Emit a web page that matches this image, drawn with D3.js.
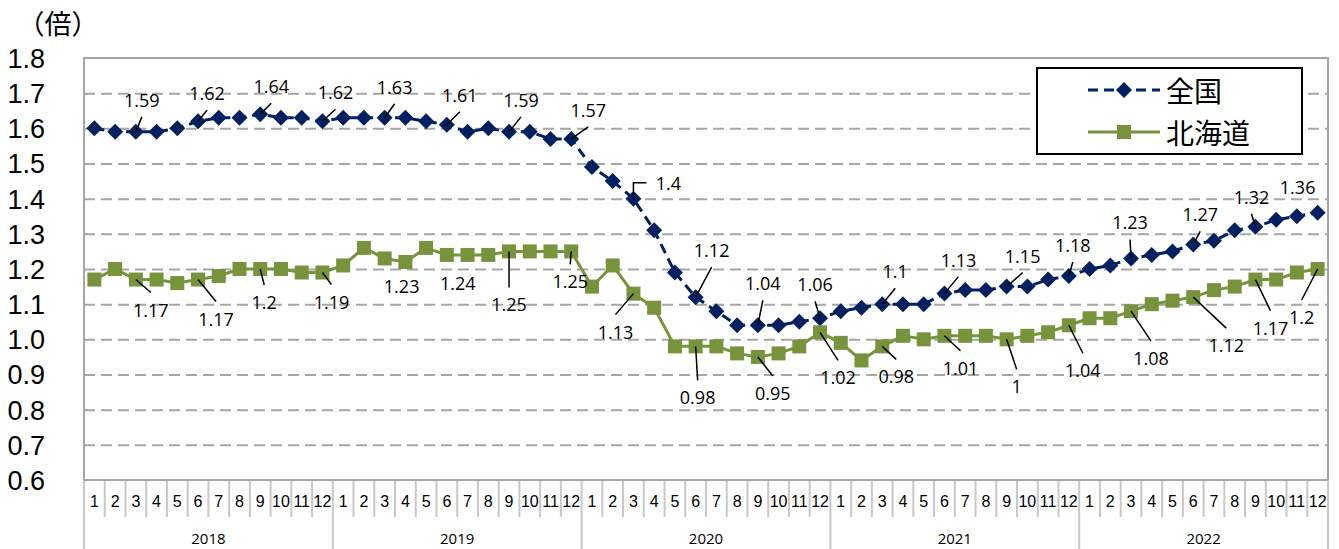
<!DOCTYPE html>
<html>
<head>
<meta charset="utf-8">
<script src="https://cdn.jsdelivr.net/npm/d3@7"></script>
<style>
  body { margin: 0; background: #fff; }
  svg { display: block; font-family: "Open Sans", "Noto Sans CJK JP", sans-serif; }
</style>
</head>
<body>
<div id="chart"></div>
<script>
// data
const years = ["2018", "2019", "2020", "2021", "2022"];
const months = ["1", "2", "3", "4", "5", "6", "7", "8", "9", "10", "11", "12"];
const seriesNames = ["全国", "北海道"];

const national = [
  1.60, 1.59, 1.59, 1.59, 1.60, 1.62, 1.63, 1.63, 1.64, 1.63, 1.63, 1.62,
  1.63, 1.63, 1.63, 1.63, 1.62, 1.61, 1.59, 1.60, 1.59, 1.59, 1.57, 1.57,
  1.49, 1.45, 1.40, 1.31, 1.19, 1.12, 1.08, 1.04, 1.04, 1.04, 1.05, 1.06,
  1.08, 1.09, 1.10, 1.10, 1.10, 1.13, 1.14, 1.14, 1.15, 1.15, 1.17, 1.18,
  1.20, 1.21, 1.23, 1.24, 1.25, 1.27, 1.28, 1.31, 1.32, 1.34, 1.35, 1.36
];
const hokkaido = [
  1.17, 1.20, 1.17, 1.17, 1.16, 1.17, 1.18, 1.20, 1.20, 1.20, 1.19, 1.19,
  1.21, 1.26, 1.23, 1.22, 1.26, 1.24, 1.24, 1.24, 1.25, 1.25, 1.25, 1.25,
  1.15, 1.21, 1.13, 1.09, 0.98, 0.98, 0.98, 0.96, 0.95, 0.96, 0.98, 1.02,
  0.99, 0.94, 0.98, 1.01, 1.00, 1.01, 1.01, 1.01, 1.00, 1.01, 1.02, 1.04,
  1.06, 1.06, 1.08, 1.10, 1.11, 1.12, 1.14, 1.15, 1.17, 1.17, 1.19, 1.20
];
const yTicks = [0.6, 0.7, 0.8, 0.9, 1.0, 1.1, 1.2, 1.3, 1.4, 1.5, 1.6, 1.7, 1.8];
const labelMonths = ["3", "6", "9", "12"];

// label placement (dx, dy from the point, leader: 0 none, 1 straight, 2 elbow)
const natLabelPos = [
  [6, -32, 1], [9, -28, 1], [11, -28, 1], [13, -29, 1],
  [10, -31, 1], [13, -30, 1], [12, -32, 1], [17, -29, 1],
  [35, -16, 2], [16, -47, 1], [5, -42, 1], [-5, -34, 1],
  [13, -33, 1], [14, -34, 1], [16, -31, 1], [4, -31, 1],
  [-1, -36, 1], [7, -30, 1], [-4, -30, 1], [-20, -26, 0]
];
const hokLabelPos = [
  [15, 30, 1], [18, 39, 1], [4, 33, 1], [9, 29, 1],
  [17, 28, 0], [11, 28, 0], [0, 53, 1], [-1, 30, 1],
  [-18, 38, 1], [2, 51, 1], [15, 36, 1], [18, 45, 1],
  [14, 30, 1], [16, 32, 1], [10, 47, 1], [14, 45, 1],
  [20, 47, 1], [33, 48, 1], [15, 48, 1], [-16, 48, 1]
];

const W = 1339, H = 549;
const margin = { top: 58, right: 11, bottom: 69, left: 84 };
const width = W - margin.left - margin.right,
  height = H - margin.top - margin.bottom;

const navy = "#002060", green = "#77933c", gridGray = "#a6a6a6";

const cats = [];
years.forEach(function (yr) {
  months.forEach(function (m) {
    cats.push({ key: yr + "-" + m, year: yr, month: m });
  });
});

const svg = d3.select("#chart").append("svg")
  .attr("width", W).attr("height", H);

svg.append("text")
  .attr("x", 58).attr("y", 22)
  .attr("text-anchor", "middle")
  .attr("dominant-baseline", "central")
  .style("font-family", "'Noto Sans CJK JP'")
  .style("font-size", "27px")
  .text("（倍）");

const g = svg.append("g")
  .attr("transform", "translate(" + margin.left + "," + margin.top + ")");

const x = d3.scaleBand().domain(cats.map(d => d.key)).range([0, width]);
const y = d3.scaleLinear().domain([0.6, 1.8]).range([height, 0]);
const cx = d => x(d) + x.bandwidth() / 2;

// gridlines
const grid = g.append("g")
  .call(d3.axisLeft(y).tickValues(yTicks.slice(1, -1)).tickSize(-width).tickFormat(""));
grid.select(".domain").remove();
grid.selectAll("line")
  .attr("stroke", gridGray).attr("stroke-width", 2).attr("stroke-dasharray", "11,6");

// y labels
const yAxis = g.append("g")
  .call(d3.axisLeft(y).tickValues(yTicks).tickSize(0).tickPadding(39).tickFormat(d3.format(".1f")));
yAxis.select(".domain").remove();
yAxis.selectAll("text")
  .style("font-size", "27px").attr("fill", "#000").attr("dy", "0.35em");

// plot frame
g.append("path")
  .attr("d", "M0," + height + "V0H" + width + "V" + height)
  .attr("fill", "none").attr("stroke", "#a6a6a6").attr("stroke-width", 2);

// x axis, two levels
const xAxis = g.append("g")
  .attr("transform", "translate(0," + height + ")")
  .call(d3.axisBottom(x).tickSize(0).tickPadding(16).tickFormat(function (k) {
    return k.split("-")[1];
  }));
xAxis.select(".domain").remove();
xAxis.selectAll("text").style("font-size", "16px").attr("fill", "#000");

g.selectAll(".msep").data(cats.filter(d => d.month !== "1"))
  .enter().append("line")
  .attr("x1", d => x(d.key)).attr("x2", d => x(d.key))
  .attr("y1", height).attr("y2", height + 37)
  .attr("stroke", "#c8c8c8").attr("stroke-width", 2);

g.selectAll(".ysep").data(years.concat(["end"]))
  .enter().append("line")
  .attr("x1", (d, i) => i < years.length ? x(d + "-1") : width)
  .attr("x2", (d, i) => i < years.length ? x(d + "-1") : width)
  .attr("y1", height).attr("y2", H - margin.top)
  .attr("stroke", "#c8c8c8").attr("stroke-width", 2);

g.selectAll(".ylab").data(years)
  .enter().append("text")
  .attr("x", d => (x(d + "-1") + x(d + "-12") + x.bandwidth()) / 2)
  .attr("y", height + 58)
  .attr("text-anchor", "middle")
  .attr("dominant-baseline", "central")
  .style("font-size", "15px")
  .text(d => d);

g.append("line")
  .attr("x1", 0).attr("x2", width).attr("y1", height).attr("y2", height)
  .attr("stroke", "#a6a6a6").attr("stroke-width", 2);

// lines
const line = d3.line()
  .x((d, i) => cx(cats[i].key))
  .y(d => y(d));

g.append("path").datum(national)
  .attr("d", line).attr("fill", "none")
  .attr("stroke", navy).attr("stroke-width", 3).attr("stroke-dasharray", "10,6");

g.append("path").datum(hokkaido)
  .attr("d", line).attr("fill", "none")
  .attr("stroke", green).attr("stroke-width", 3);

const diamond = "M0,-8L8,0L0,8L-8,0Z";

g.selectAll(".nat").data(national).enter().append("path")
  .attr("transform", (d, i) => "translate(" + cx(cats[i].key) + "," + y(d) + ")")
  .attr("d", diamond).attr("fill", navy);

g.selectAll(".hok").data(hokkaido).enter().append("rect")
  .attr("x", (d, i) => cx(cats[i].key) - 7).attr("y", d => y(d) - 7)
  .attr("width", 14).attr("height", 14).attr("fill", green);

// data labels with leaders
function drawLabels(values, pos, above) {
  const idx = [];
  cats.forEach(function (c, i) { if (labelMonths.indexOf(c.month) >= 0) idx.push(i); });
  idx.forEach(function (i, n) {
    const px = cx(cats[i].key), py = y(values[i]);
    const p = pos[n];
    const lx = px + p[0], ly = py + p[1];
    const txt = String(+values[i].toFixed(2));
    if (p[2] === 1) {
      g.append("line")
        .attr("x1", px).attr("y1", py)
        .attr("x2", lx).attr("y2", above ? ly + 17 : ly - 17)
        .attr("stroke", "#000").attr("stroke-width", 1.5);
    } else if (p[2] === 2) {
      g.append("path")
        .attr("d", "M" + px + "," + py + "V" + ly + "H" + (lx - 22))
        .attr("fill", "none").attr("stroke", "#000").attr("stroke-width", 1.5);
    }
    g.append("text")
      .attr("x", lx).attr("y", ly)
      .attr("text-anchor", "middle")
      .attr("dominant-baseline", "central")
      .style("font-size", "18px")
      .text(txt);
  });
}
drawLabels(national, natLabelPos, true);
drawLabels(hokkaido, hokLabelPos, false);

// legend
const lg = svg.append("g");
lg.append("rect")
  .attr("x", 1037).attr("y", 68).attr("width", 265).attr("height", 86)
  .attr("fill", "#fff").attr("stroke", "#000").attr("stroke-width", 2);

const legendRows = [
  { name: seriesNames[0], color: navy, dash: "10,6", y: 90 },
  { name: seriesNames[1], color: green, dash: null, y: 132 }
];
legendRows.forEach(function (r, i) {
  lg.append("line")
    .attr("x1", 1088).attr("x2", 1160).attr("y1", r.y).attr("y2", r.y)
    .attr("stroke", r.color).attr("stroke-width", 3)
    .attr("stroke-dasharray", r.dash);
  if (i === 0) {
    lg.append("path").attr("transform", "translate(1124," + r.y + ")")
      .attr("d", diamond).attr("fill", r.color);
  } else {
    lg.append("rect").attr("x", 1117).attr("y", r.y - 7)
      .attr("width", 14).attr("height", 14).attr("fill", r.color);
  }
  lg.append("text")
    .attr("x", 1166).attr("y", r.y)
    .attr("dominant-baseline", "central")
    .style("font-family", "'Noto Sans CJK JP'")
    .style("font-size", "28px")
    .text(r.name);
});
</script>
</body>
</html>
